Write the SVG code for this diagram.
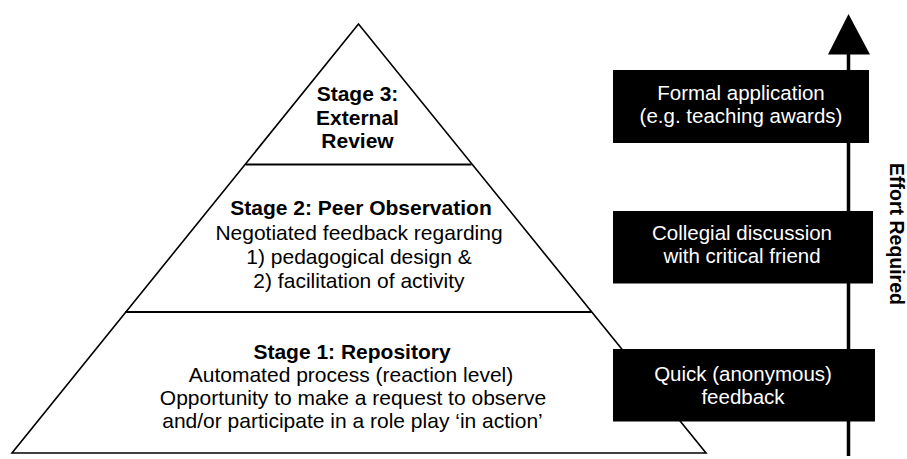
<svg xmlns="http://www.w3.org/2000/svg" width="907" height="459" viewBox="0 0 907 459">
  <style>
    .tri { fill: #ffffff; stroke: #000000; stroke-width: 1.6; stroke-linejoin: miter; }
    .divider { stroke: #000000; stroke-width: 2; }
    .box { fill: #000000; }
    .t { font-family: "Liberation Sans", Arial, sans-serif; text-anchor: middle; fill: #000000; font-size: 21px; }
    .b { font-weight: bold; }
    .bt { font-family: "Liberation Sans", Arial, sans-serif; text-anchor: middle; fill: #ffffff; font-size: 20.5px; }
    .axis { stroke: #000000; stroke-width: 3.5; fill: none; }
  </style>

  <!-- Pyramid of stages -->
  <g id="pyramid">
    <polygon class="tri" points="358.5,24 12,453 706,453"/>
    <line class="divider" x1="245.5" y1="164.5" x2="471.5" y2="164.5"/>
    <line class="divider" x1="125.5" y1="312" x2="591.5" y2="312"/>
  </g>

  <g id="stage3">
    <text class="t b" x="357.5" y="101">Stage 3:</text>
    <text class="t b" x="357.5" y="124.5">External</text>
    <text class="t b" x="357.5" y="148">Review</text>
  </g>

  <g id="stage2">
    <text class="t b" x="361" y="215">Stage 2: Peer Observation</text>
    <text class="t" x="359" y="240">Negotiated feedback regarding</text>
    <text class="t" x="359" y="264">1) pedagogical design &amp;</text>
    <text class="t" x="359" y="288">2) facilitation of activity</text>
  </g>

  <g id="stage1">
    <text class="t b" x="352" y="358.5">Stage 1: Repository</text>
    <text class="t" x="351" y="381.5">Automated process (reaction level)</text>
    <text class="t" x="353" y="404.5">Opportunity to make a request to observe</text>
    <text class="t" x="352.5" y="427.5">and/or participate in a role play ‘in action’</text>
  </g>

  <!-- Effort axis -->
  <g id="connectors">
    <line class="axis" x1="848.5" y1="50" x2="848.5" y2="456"/>
    <polygon points="848.5,14 870,54.5 828,54.5" fill="#000000"/>
  </g>

  <g id="box-formal">
    <rect class="box" x="613" y="70" width="256" height="73"/>
    <text class="bt" x="741" y="100">Formal application</text>
    <text class="bt" x="741" y="122.5">(e.g. teaching awards)</text>
  </g>

  <g id="box-collegial">
    <rect class="box" x="613" y="211" width="260" height="72.5"/>
    <text class="bt" x="742" y="240">Collegial discussion</text>
    <text class="bt" x="742" y="263">with critical friend</text>
  </g>

  <g id="box-quick">
    <rect class="box" x="613" y="349" width="262" height="72.5"/>
    <text class="bt" x="743" y="381">Quick (anonymous)</text>
    <text class="bt" x="743" y="404">feedback</text>
  </g>

  <g id="axis-label">
    <text class="t b" font-size="19.5" transform="translate(890,234) rotate(90)" x="0" y="0" style="font-size:19.5px">Effort Required</text>
  </g>
</svg>
